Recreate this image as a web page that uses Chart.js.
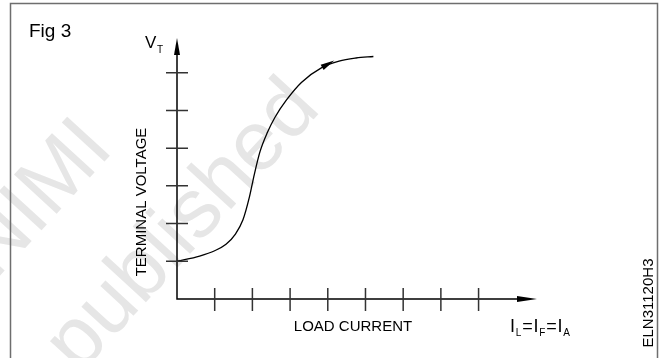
<!DOCTYPE html>
<html>
<head>
<meta charset="utf-8">
<script src="https://cdn.jsdelivr.net/npm/chart.js@4"></script>
<style>
  body { margin: 0; background: #fff; }
  #wrap { width: 665px; height: 358px; }
</style>
</head>
<body>
<div id="wrap"><canvas id="fig" width="665" height="358"></canvas></div>
<script>
// load current vs terminal voltage (arbitrary units)
var loadCurrent = [0, 0.6, 1.0, 1.3, 1.55, 1.75, 1.92, 2.05, 2.2, 2.4, 2.6, 2.9, 3.3, 3.85, 4.3, 4.75, 5.21];
var terminalVoltage = [1.0, 1.14, 1.28, 1.45, 1.72, 2.1, 2.7, 3.3, 3.9, 4.42, 4.82, 5.27, 5.74, 6.14, 6.31, 6.39, 6.43];

var xTicks = [1, 2, 3, 4, 5, 6, 7, 8];
var yTicks = [1, 2, 3, 4, 5, 6];
var xMax = 9.55;
var yMax = 6.92;
var arrowIndex = 13;   // point on the curve carrying the direction arrow

var FONT = '"Liberation Sans", Arial, sans-serif';

var points = loadCurrent.map(function (x, i) { return { x: x, y: terminalVoltage[i] }; });

function arrowHead(ctx, tipX, tipY, ang, len, half) {
    ctx.save();
    ctx.translate(tipX, tipY);
    ctx.rotate(ang);
    ctx.beginPath();
    ctx.moveTo(0, 0);
    ctx.lineTo(-len, -half);
    ctx.lineTo(-len, half);
    ctx.closePath();
    ctx.fill();
    ctx.restore();
}

var figurePlugin = {
    id: 'figure',
    beforeDraw: function (chart) {
        var ctx = chart.ctx;
        ctx.save();
        ctx.fillStyle = '#fff';
        ctx.fillRect(0, 0, chart.width, chart.height);

        // faint watermark
        var a = -47.5 * Math.PI / 180;
        ctx.fillStyle = '#e6e6e6';
        ctx.font = '84px ' + FONT;
        [['NIMI', 115, 150], ['published', 322, 110]].forEach(function (w) {
            var wd = ctx.measureText(w[0]).width;
            ctx.save();
            ctx.translate(w[1] - wd * Math.cos(a), w[2] - wd * Math.sin(a));
            ctx.rotate(a);
            ctx.fillText(w[0], 0, 0);
            ctx.restore();
        });

        // frame
        ctx.strokeStyle = '#6e6e6e';
        ctx.lineWidth = 1.5;
        ctx.beginPath();
        ctx.moveTo(10.5, 370);
        ctx.lineTo(10.5, 3.5);
        ctx.lineTo(657.5, 3.5);
        ctx.lineTo(657.5, 370);
        ctx.stroke();
        ctx.restore();
    },
    afterDraw: function (chart) {
        var ctx = chart.ctx;
        var xs = chart.scales.x, ys = chart.scales.y;
        var x0 = xs.getPixelForValue(0), y0 = ys.getPixelForValue(0);
        var xEnd = xs.getPixelForValue(xMax), yEnd = ys.getPixelForValue(yMax);

        ctx.save();
        // axes
        ctx.strokeStyle = '#000';
        ctx.fillStyle = '#000';
        ctx.lineWidth = 1.5;
        ctx.beginPath();
        ctx.moveTo(x0, yEnd + 10);
        ctx.lineTo(x0, y0);
        ctx.lineTo(xEnd - 10, y0);
        ctx.stroke();
        arrowHead(ctx, x0, yEnd, -Math.PI / 2, 17, 3);
        arrowHead(ctx, xEnd, y0, 0, 20, 3);

        // ticks crossing the axes
        ctx.strokeStyle = '#333';
        ctx.beginPath();
        xTicks.forEach(function (v) {
            var px = xs.getPixelForValue(v);
            ctx.moveTo(px, y0 - 11);
            ctx.lineTo(px, y0 + 12);
        });
        yTicks.forEach(function (v) {
            var py = ys.getPixelForValue(v);
            ctx.moveTo(x0 - 11, py);
            ctx.lineTo(x0 + 11, py);
        });
        ctx.stroke();

        // direction arrow on the curve
        var meta = chart.getDatasetMeta(0).data;
        var p = meta[arrowIndex], pa = meta[arrowIndex - 1], pb = meta[arrowIndex + 1];
        var ang = Math.atan2(pb.y - pa.y, pb.x - pa.x);
        ctx.fillStyle = '#000';
        arrowHead(ctx, p.x + 14 * Math.cos(ang), p.y + 14 * Math.sin(ang), ang, 14, 3);

        // labels
        ctx.fillStyle = '#000';
        ctx.textBaseline = 'alphabetic';
        ctx.textAlign = 'left';
        ctx.font = '19px ' + FONT;
        ctx.fillText('Fig 3', 29, 37);

        ctx.font = '17px ' + FONT;
        ctx.fillText('V', 145, 48);
        ctx.font = '10px ' + FONT;
        ctx.fillText('T', 157, 53);

        ctx.font = '15px ' + FONT;
        ctx.textAlign = 'center';
        ctx.fillText('LOAD CURRENT', 353, 331);

        // I_L = I_F = I_A
        ctx.textAlign = 'left';
        var parts = [['I', 18, 0], ['L', 10, 4], ['=', 18, 0], ['I', 18, 0], ['F', 10, 4], ['=', 18, 0], ['I', 18, 0], ['A', 10, 4]];
        var cx = 510;
        parts.forEach(function (pt) {
            ctx.font = pt[1] + 'px ' + FONT;
            ctx.fillText(pt[0], cx, 332 + pt[2]);
            cx += ctx.measureText(pt[0]).width + 0.8;
        });

        ctx.font = '15px ' + FONT;
        ctx.textAlign = 'center';
        ctx.save();
        ctx.translate(146, 202);
        ctx.rotate(-Math.PI / 2);
        ctx.fillText('TERMINAL VOLTAGE', 0, 0);
        ctx.restore();

        ctx.save();
        ctx.translate(653, 303);
        ctx.rotate(-Math.PI / 2);
        ctx.fillText('ELN31120H3', 0, 0);
        ctx.restore();

        ctx.restore();
    }
};

new Chart(document.getElementById('fig'), {
    type: 'line',
    data: {
        datasets: [{
            data: points,
            borderColor: '#000',
            borderWidth: 1.3,
            pointRadius: 0,
            fill: false,
            cubicInterpolationMode: 'monotone'
        }]
    },
    options: {
        responsive: false,
        animation: false,
        layout: { padding: { left: 177, right: 128, top: 38, bottom: 59 } },
        plugins: { legend: { display: false }, tooltip: { enabled: false } },
        scales: {
            x: { type: 'linear', min: 0, max: xMax, display: false },
            y: { type: 'linear', min: 0, max: yMax, display: false }
        }
    },
    plugins: [figurePlugin]
});
</script>
</body>
</html>
